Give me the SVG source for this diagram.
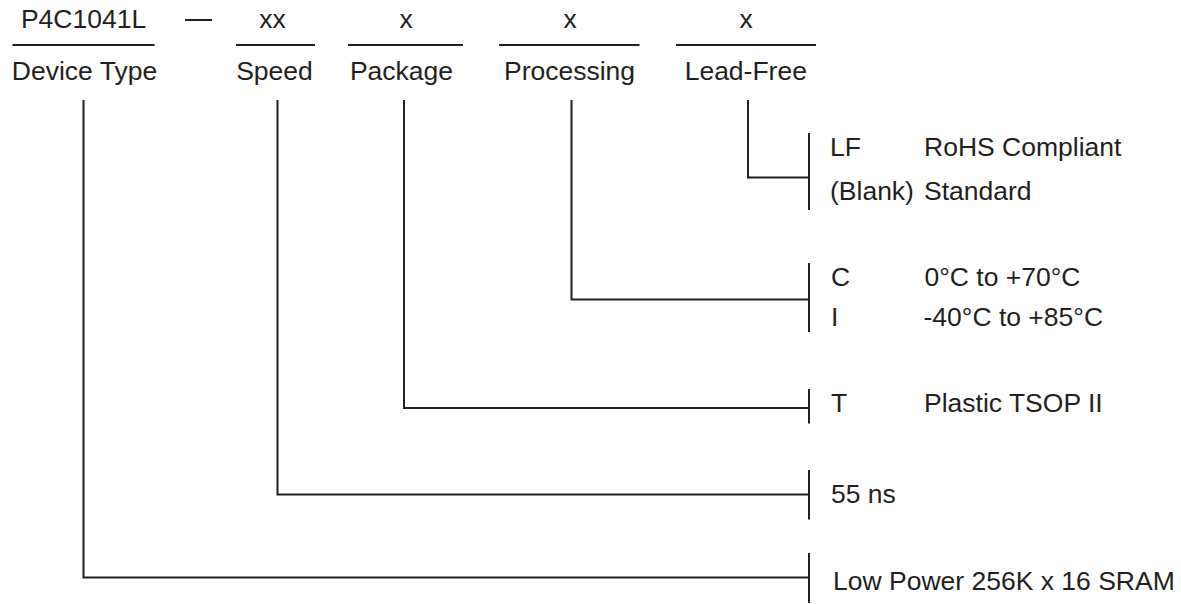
<svg xmlns="http://www.w3.org/2000/svg" width="1181" height="604" viewBox="0 0 1181 604">
<style>
text{font-family:"Liberation Sans",Arial,sans-serif;font-size:26.5px;fill:#231f20}
.c{text-anchor:middle}
line,polyline{stroke:#231f20;stroke-width:2;fill:none}
</style>
<rect width="1181" height="604" fill="#fff"/>
<g id="header">
<text class="c" x="83.5" y="28">P4C1041L</text>
<line x1="185" y1="20" x2="212" y2="20"/>
<text class="c" x="272.5" y="28">xx</text>
<text class="c" x="406" y="28">x</text>
<text class="c" x="570" y="28">x</text>
<text class="c" x="746" y="28">x</text>
<line x1="12.5" y1="45" x2="154.5" y2="45"/>
<line x1="236" y1="45" x2="315" y2="45"/>
<line x1="348" y1="45" x2="463" y2="45"/>
<line x1="499" y1="45" x2="639.5" y2="45"/>
<line x1="676" y1="45" x2="816" y2="45"/>
</g>
<g id="field-device"><text class="c" x="84.5" y="79.5">Device Type</text></g>
<g id="field-speed"><text class="c" x="274.5" y="79.5">Speed</text></g>
<g id="field-package"><text class="c" x="401.5" y="79.5">Package</text></g>
<g id="field-processing"><text class="c" x="569.5" y="79.5">Processing</text></g>
<g id="field-leadfree"><text class="c" x="745.8" y="79.5">Lead-Free</text></g>
<g id="connectors">
<polyline points="748,100 748,177.5 809,177.5"/>
<line x1="809" y1="133" x2="809" y2="210"/>
<polyline points="571.5,100 571.5,299.5 809,299.5"/>
<line x1="809" y1="263" x2="809" y2="332"/>
<polyline points="404,100 404,408 809,408"/>
<line x1="809" y1="389" x2="809" y2="423.5"/>
<polyline points="277.5,100 277.5,494.5 809,494.5"/>
<line x1="809" y1="470" x2="809" y2="519.5"/>
<polyline points="83.5,100 83.5,577.5 809,577.5"/>
<line x1="809" y1="553" x2="809" y2="603"/>
</g>
<g id="opt-leadfree">
<text x="830" y="156">LF</text><text x="924" y="156">RoHS Compliant</text>
<text x="830" y="200">(Blank)</text><text x="924" y="200">Standard</text>
</g>
<g id="opt-processing">
<text x="831" y="286">C</text><text x="924.5" y="286">0°C to +70°C</text>
<text x="831" y="326">I</text><text x="923.5" y="326">-40°C to +85°C</text>
</g>
<g id="opt-package">
<text x="831" y="411.5">T</text><text x="924" y="411.5">Plastic TSOP II</text>
</g>
<g id="opt-speed"><text x="831" y="503">55 ns</text></g>
<g id="opt-device"><text x="833" y="590">Low Power 256K x 16 SRAM</text></g>
</svg>
